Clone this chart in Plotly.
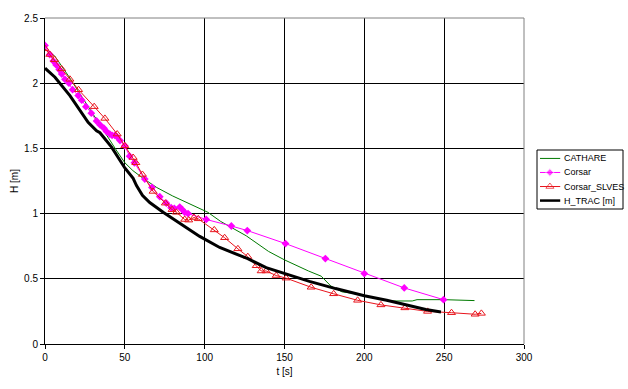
import plotly.graph_objects as go

# CATHARE
cathare_t = [0, 6, 15, 25, 32, 37, 45, 50, 55, 61.5, 70, 80, 90, 102, 110, 126, 140, 150, 165, 173, 179, 186, 198, 215, 230, 233, 250, 269]
cathare_h = [2.26, 2.21, 2.05, 1.86, 1.72, 1.63, 1.48, 1.39, 1.33, 1.27, 1.20, 1.135, 1.08, 1.01, 0.94, 0.83, 0.71, 0.645, 0.56, 0.52, 0.445, 0.40, 0.38, 0.33, 0.33, 0.34, 0.34, 0.333]

# Corsar
corsar_t = [0, 3, 5.2, 7, 8.9, 10.5, 12.5, 15, 17.3, 20.8, 23, 25.6, 29, 32.3, 34.5, 36.9, 38.5, 40.6, 42, 43.75, 45, 47, 50, 53, 56, 62.5, 67, 71.9, 76, 79, 81, 84.4, 86, 87.5, 89.6, 101, 116.7, 126.7, 150.6, 175.6, 200, 225, 249.6]
corsar_h = [2.29, 2.22, 2.17, 2.14, 2.105, 2.07, 2.03, 2.0, 1.95, 1.905, 1.87, 1.82, 1.77, 1.71, 1.68, 1.655, 1.63, 1.61, 1.60, 1.60, 1.59, 1.56, 1.52, 1.44, 1.39, 1.265, 1.20, 1.13, 1.08, 1.045, 1.04, 1.05, 1.03, 1.01, 1.0, 0.955, 0.905, 0.87, 0.77, 0.655, 0.54, 0.43, 0.34]

# Corsar_SLVES
slves_t = [0, 3, 6, 10.4, 15.6, 21, 30.8, 37.5, 45.2, 50, 55.2, 56.9, 61, 67.7, 75.4, 79.6, 82.3, 87.5, 90, 93.3, 96, 106, 112.5, 120.8, 127, 132.3, 135.4, 138.5, 144.8, 151, 166.7, 180.8, 195.8, 210.4, 225.4, 239.6, 254.6, 269.4, 273.3]
slves_h = [2.265, 2.22, 2.18, 2.11, 2.03, 1.95, 1.82, 1.73, 1.61, 1.52, 1.43, 1.39, 1.30, 1.17, 1.08, 1.03, 1.01, 0.955, 0.95, 0.97, 0.96, 0.875, 0.815, 0.73, 0.67, 0.60, 0.56, 0.56, 0.525, 0.505, 0.435, 0.385, 0.335, 0.30, 0.277, 0.25, 0.24, 0.228, 0.235]

# H_TRAC [m]
trac_t = [0, 6.25, 15.6, 22.9, 27, 32.3, 34.4, 41.7, 50, 55.2, 57.3, 61, 65.6, 74, 85.4, 96.9, 109.4, 127, 138.5, 151, 165.6, 182, 200, 214, 228, 238.5, 248]
trac_h = [2.115, 2.046, 1.905, 1.777, 1.70, 1.635, 1.62, 1.51, 1.35, 1.27, 1.215, 1.14, 1.085, 1.01, 0.918, 0.825, 0.74, 0.654, 0.585, 0.538, 0.48, 0.425, 0.37, 0.335, 0.297, 0.264, 0.246]

x_ticks = [0, 50, 100, 150, 200, 250, 300]
y_ticks = [0, 0.5, 1, 1.5, 2, 2.5]
y_tick_text = ["0", "0.5", "1", "1.5", "2", "2.5"]

legend_names = ["CATHARE", "Corsar", "Corsar_SLVES", "H_TRAC [m]"]

FONT = "Liberation Sans, Arial, sans-serif"
font = dict(family=FONT, size=10, color="#000000")

styles = [
    dict(mode="lines", line=dict(color="#007A00", width=1)),
    dict(mode="lines+markers", line=dict(color="#FF00FF", width=1),
         marker=dict(symbol="diamond", size=6, color="#FF00FF")),
    dict(mode="lines+markers", line=dict(color="#E8141C", width=1),
         marker=dict(symbol="triangle-up-open", size=7, color="#E8141C", line=dict(width=1))),
    dict(mode="lines", line=dict(color="#000000", width=3)),
]
series = [(cathare_t, cathare_h), (corsar_t, corsar_h), (slves_t, slves_h), (trac_t, trac_h)]

fig = go.Figure()
for name, (t, h), st in zip(legend_names, series, styles):
    fig.add_trace(go.Scatter(x=t, y=h, name=name, showlegend=False, xaxis="x", yaxis="y", **st))

# legend drawn in its own small axes (samples + labels)
rows = [3, 2, 1, 0]
for name, st, r in zip(legend_names, styles, rows):
    kw = dict(st)
    if "marker" in kw:
        m = dict(kw["marker"])
        m["size"] = [0, m["size"], 0]
        kw["marker"] = m
    if kw["mode"] == "lines" and kw["line"]["width"] == 3:
        kw["line"] = dict(color="#000000", width=2.5)
    fig.add_trace(go.Scatter(x=[0.035, 0.15, 0.27], y=[r, r, r], showlegend=False,
                             xaxis="x2", yaxis="y2", hoverinfo="skip", **kw))
    fig.add_annotation(x=0.29, y=r, xref="x2", yref="y2", text=name, showarrow=False,
                       xanchor="left", yanchor="middle",
                       font=dict(family=FONT, size=9, color="#000000"))

plot_w = 628 - 45 - 5
main_right = (524 - 45) / plot_w
leg_left = (537 - 45) / plot_w
leg_right = (623 - 45) / plot_w
plot_h = 389 - 18 - 45
leg_top = (344 - 150) / plot_h
leg_bot = (344 - 209) / plot_h

fig.update_layout(
    width=628, height=389,
    margin=dict(l=45, r=5, t=18, b=45, autoexpand=False),
    paper_bgcolor="white", plot_bgcolor="white",
    font=font,
    showlegend=False,
    xaxis=dict(domain=[0, main_right], range=[0, 300], tickvals=x_ticks, showgrid=True,
               gridcolor="#000000", gridwidth=1,
               showline=True, linecolor="#000000", linewidth=1, ticks="outside", ticklen=4,
               tickcolor="#000000", zeroline=False,
               title=dict(text="t [s]", standoff=5, font=font)),
    yaxis=dict(range=[0, 2.5], tickvals=y_ticks, ticktext=y_tick_text, showgrid=True,
               gridcolor="#000000", gridwidth=1, showline=True, linecolor="#000000", linewidth=1,
               ticks="outside", ticklen=4, tickcolor="#000000", zeroline=False,
               title=dict(text="H [m]", standoff=3, font=font)),
    xaxis2=dict(domain=[leg_left, leg_right], range=[0, 1], visible=False, fixedrange=True,
                anchor="y2"),
    yaxis2=dict(domain=[leg_bot, leg_top], range=[-0.6, 3.6], visible=False, fixedrange=True,
                anchor="x2"),
)
# gray border on top and right of plot area
fig.add_shape(type="line", xref="x domain", yref="y domain", x0=0, x1=1, y0=1, y1=1,
              line=dict(color="#808080", width=1), layer="above")
fig.add_shape(type="line", xref="x domain", yref="y domain", x0=1, x1=1, y0=0, y1=1,
              line=dict(color="#808080", width=1), layer="above")
# legend box
fig.add_shape(type="rect", xref="x2 domain", yref="y2 domain", x0=0, x1=1, y0=0, y1=1,
              line=dict(color="#000000", width=1), layer="below")

fig.write_html("out.html")
